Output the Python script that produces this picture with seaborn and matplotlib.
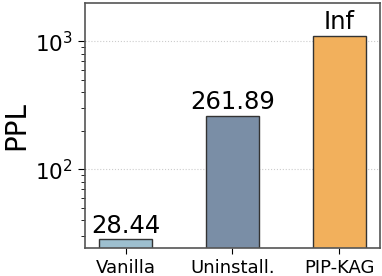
import matplotlib
matplotlib.use("Agg")
import matplotlib.pyplot as plt
import seaborn as sns
import pandas as pd

methods = ["Vanilla", "Uninstall.", "PIP-KAG"]
ppl = [28.44, 261.89, 1100]
bar_labels = ["28.44", "261.89", "Inf"]
colors = ["#9dbfcf", "#7a8ea6", "#f2b05c"]

sns.set_style("white")
plt.rcParams['font.family'] = ['DejaVu Sans']
plt.rcParams['text.color'] = 'black'
plt.rcParams['axes.labelcolor'] = 'black'
plt.rcParams['xtick.color'] = 'black'
plt.rcParams['ytick.color'] = 'black'

df = pd.DataFrame({"method": methods, "ppl": ppl})

fig = plt.figure(figsize=(3.82, 2.76), dpi=100)
ax = fig.add_axes([0.2225, 0.101, 0.772, 0.888])

sns.barplot(data=df, x="method", y="ppl", hue="method", palette=colors,
            saturation=1, width=0.5, edgecolor="#333333", linewidth=1.0,
            legend=False, ax=ax)
ax.set_yscale("log")
ax.set_ylim(24.2, 1990)
ax.set_xlim(-0.38, 2.38)

for i, (v, lab) in enumerate(zip(ppl, bar_labels)):
    ax.text(i, v * 1.03, lab, ha="center", va="bottom", fontsize=17.5)

ax.yaxis.grid(True, which="major", linestyle=":", color="#cccccc", linewidth=0.8)
ax.set_axisbelow(True)
ax.set_xlabel("")
ax.set_ylabel("PPL", fontsize=20)
ax.tick_params(axis="x", labelsize=13, length=4, bottom=True)
ax.tick_params(axis="y", which="major", labelsize=15.5, length=5, left=True)
ax.tick_params(axis="y", which="minor", length=3, left=True)
for s in ax.spines.values():
    s.set_color("#555555")
    s.set_linewidth(1.2)

fig.savefig("out.png", dpi=100)
